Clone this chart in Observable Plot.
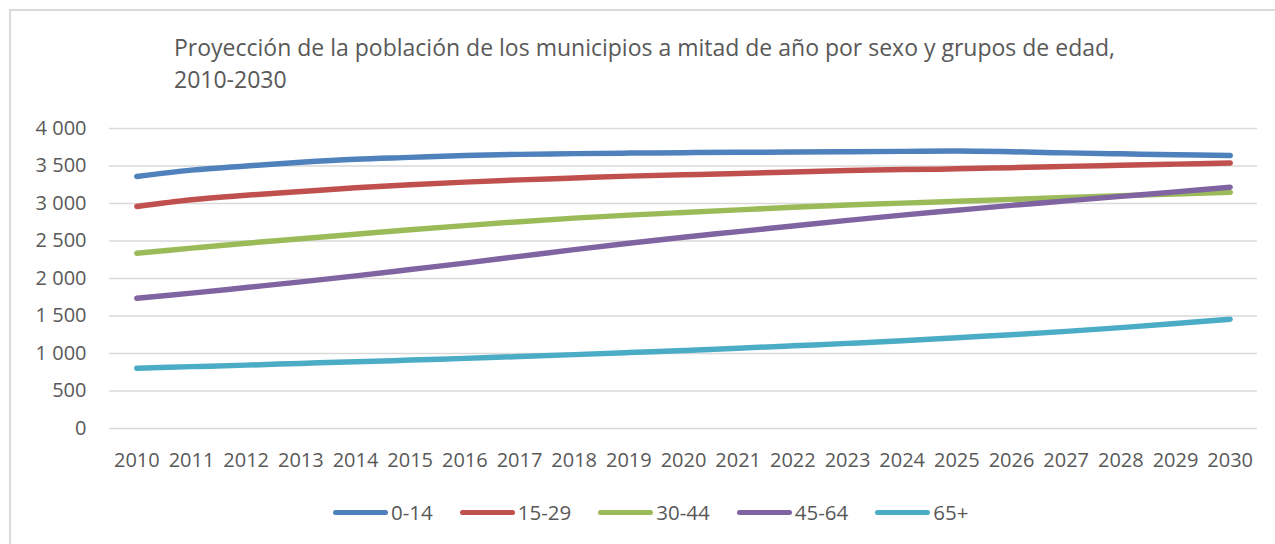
<!DOCTYPE html>
<html>
<head>
<meta charset="utf-8">
<script src="https://cdn.jsdelivr.net/npm/d3@7"></script>
<script src="https://cdn.jsdelivr.net/npm/@observablehq/plot@0.6"></script>
<style>
  html, body { margin: 0; padding: 0; background: #fff; }
  body { width: 1275px; height: 544px; position: relative; overflow: hidden; font-family: "Open Sans", sans-serif; color: #595959; }
  #frame { position: absolute; left: 9px; top: 9px; width: 1300px; height: 600px; border: 2px solid #d9d9d9; box-sizing: border-box; }
  #title { position: absolute; left: 174px; top: 31px; font-size: 23px; line-height: 32px; color: #595959; white-space: nowrap; }
  #chart { position: absolute; left: 0; top: 0; }
  #legend { position: absolute; left: 333px; top: 498px; display: flex; align-items: center; font-size: 20.5px; color: #595959; }
  .item { display: flex; align-items: center; margin-right: 27px; }
  .sw { width: 55px; height: 5px; border-radius: 3px; margin-right: 3px; }
</style>
</head>
<body>
<div id="frame"></div>
<div id="chart"></div>
<div id="title">Proyección de la población de los municipios a mitad de año por sexo y grupos de edad,<br>2010-2030</div>
<div id="legend"></div>
<script>
const years = ["2010","2011","2012","2013","2014","2015","2016","2017","2018","2019","2020","2021","2022","2023","2024","2025","2026","2027","2028","2029","2030"];
const groups = ["0-14","15-29","30-44","45-64","65+"];
const colors = ["#4f81bd","#c0504d","#9bbb59","#8064a2","#4bacc6"];
const yTicks = [0,500,1000,1500,2000,2500,3000,3500,4000];

const g0_14  = [3360,3445,3500,3550,3590,3615,3640,3655,3665,3672,3678,3682,3686,3690,3695,3700,3690,3675,3662,3650,3640];
const g15_29 = [2960,3050,3110,3160,3210,3250,3285,3315,3340,3365,3383,3400,3420,3440,3452,3462,3478,3495,3510,3525,3540];
const g30_44 = [2338,2405,2470,2530,2590,2650,2705,2758,2805,2845,2880,2915,2950,2980,3005,3030,3055,3080,3105,3128,3150];
const g45_64 = [1738,1805,1880,1955,2035,2120,2205,2295,2385,2470,2550,2625,2700,2775,2845,2910,2975,3035,3095,3155,3218];
const g65    = [804,825,845,868,890,912,935,960,985,1012,1040,1070,1102,1135,1170,1210,1250,1295,1345,1400,1458];

const series = [g0_14, g15_29, g30_44, g45_64, g65];
const data = [];
groups.forEach((g, k) => years.forEach((yr, i) => data.push({year: yr, value: series[k][i], group: g})));

const fmt = d => d3.format(",")(d).replace(/,/g, " ");

const chart = Plot.plot({
  width: 1275,
  height: 544,
  marginLeft: 109,
  marginRight: 18,
  marginTop: 128,
  marginBottom: 116,
  x: {type: "point", domain: years, padding: 0.5, round: false},
  y: {domain: [0, 4000]},
  color: {domain: groups, range: colors},
  style: {fontFamily: "'Open Sans', sans-serif", fontSize: "20px", color: "#595959", background: "transparent", overflow: "visible"},
  marks: [
    Plot.ruleY(yTicks, {stroke: "#d9d9d9", strokeWidth: 1.5}),
    Plot.axisY({ticks: yTicks, tickSize: 0, tickPadding: 23, tickFormat: fmt, label: null, fill: "#595959"}),
    Plot.axisX({tickSize: 0, tickPadding: 24, label: null, fill: "#595959"}),
    Plot.line(data, {x: "year", y: "value", z: "group", stroke: "group", strokeWidth: 5.5, curve: "catmull-rom", strokeLinecap: "round", strokeLinejoin: "round"})
  ]
});
document.getElementById("chart").appendChild(chart);

const legend = document.getElementById("legend");
groups.forEach((g, k) => {
  const it = document.createElement("div");
  it.className = "item";
  const sw = document.createElement("span");
  sw.className = "sw";
  sw.style.background = colors[k];
  const tx = document.createElement("span");
  tx.textContent = g;
  it.appendChild(sw); it.appendChild(tx);
  legend.appendChild(it);
});
</script>
</body>
</html>
